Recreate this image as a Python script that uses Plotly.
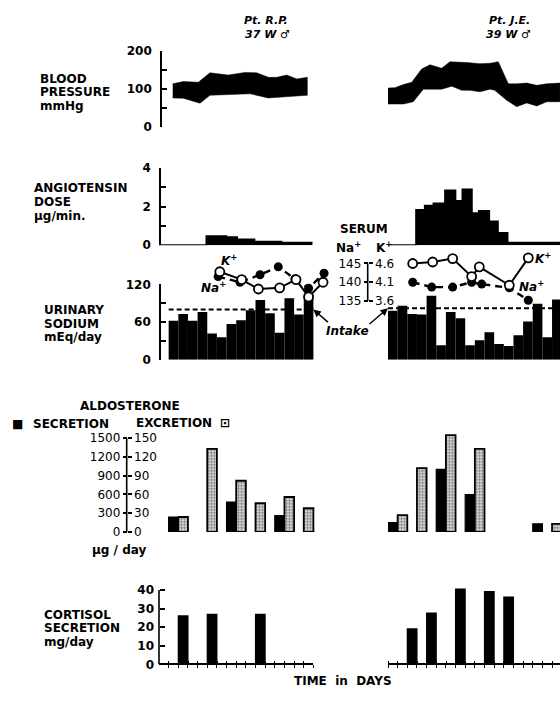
import plotly.graph_objects as go

# ---------------------------------------------------------------- data ----
# Time axis: day numbers along each patient's record
# Blood pressure band edges (mmHg): upper = systolic, lower = diastolic
bp_rp_upper_day = [1.42, 2.52, 4.07, 5.28, 7.18, 8.91, 10.12, 11.33, 12.2, 13.23, 14.27, 15.37]
bp_rp_upper = [114, 120, 118, 143, 137, 144, 143, 131, 131, 137, 127, 131]
bp_rp_lower_day = [1.42, 2.52, 4.25, 5.28, 7.36, 9.43, 11.33, 12.88, 15.37]
bp_rp_lower = [77, 76, 63, 84, 86, 88, 77, 80, 84]

bp_je_upper_day = [0, 0.73, 1.59, 2.46, 3.49, 4.35, 5.56, 6.42, 8.16, 9.53, 10.57, 11.43,
                   12.47, 13.34, 14.37, 15.41, 16.45, 17.82]
bp_je_upper = [103, 104, 112, 118, 153, 164, 155, 172, 170, 167, 168, 172,
               114, 114, 116, 110, 114, 116]
bp_je_lower_day = [0, 1.59, 2.62, 3.66, 5.56, 6.6, 7.64, 8.5, 9.53, 10.57, 11.06, 12.3,
                   13.34, 14.37, 15.41, 16.45, 17.82]
bp_je_lower = [61, 61, 67, 100, 100, 108, 97, 97, 93, 100, 97, 71, 54, 64, 56, 67, 67]

# Angiotensin infusion (ug/min): step edges (days) and dose in each step
ang_rp_edges = [0, 4.9, 7.0, 8.1, 9.9, 12.7, 15.9]
ang_rp_dose = [0, 0.47, 0.42, 0.30, 0.19, 0.14]
ang_je_edges = [0, 2.9, 3.8, 4.7, 5.9, 7.0, 7.7, 8.7, 9.4, 10.5, 11.4, 12.4, 17.82]
ang_je_dose = [0, 1.83, 2.05, 2.17, 2.85, 2.30, 2.90, 1.66, 1.78, 1.24, 0.64, 0.14]

# Urinary sodium (mEq/day), one bar per day
na_rp_day = list(range(1, 16))
na_rp = [62, 73, 62, 76, 42, 36, 57, 63, 79, 95, 74, 43, 98, 72, 104]
na_je_day = list(range(0, 18))
na_je = [78, 86, 73, 72, 102, 23, 76, 66, 23, 31, 44, 25, 22, 39, 61, 89, 36, 96]

# Sodium intake (mEq/day) and the days it covers
intake_rp, intake_rp_days = 80, [1, 16]
intake_je, intake_je_days = 82, [0, 17.82]

# Serum Na+ (mEq/L) and K+ (mEq/L)
serum_rp_na_day = [6.13, 8.39, 10.47, 12.36, 14.09, 15.5, 17.1]
serum_rp_na = [141.5, 140.0, 142.0, 144.1, 140.9, 138.4, 142.4]
serum_rp_k_day = [6.3, 8.57, 10.3, 12.5, 14.2, 15.5, 17.0]
serum_rp_k = [4.38, 4.17, 3.92, 3.95, 4.17, 3.71, 4.10]

serum_je_na_day = [2.56, 4.53, 6.7, 8.67, 9.71, 12.57, 14.54]
serum_je_na = [140.0, 138.7, 138.7, 140.0, 139.5, 138.5, 135.2]
serum_je_k_day = [2.56, 4.63, 6.7, 8.67, 9.46, 12.57, 14.54]
serum_je_k = [4.60, 4.64, 4.73, 4.25, 4.51, 4.02, 4.75]

# Aldosterone: secretion (ug/day, left scale) and excretion (ug/day, right scale)
aldo_rp_sec_day = [1, 7, 12]
aldo_rp_sec = [240, 480, 262]
aldo_rp_exc_day = [2, 5, 8, 10, 13, 15]
aldo_rp_exc = [24, 133, 82, 46, 56, 38]
aldo_je_sec_day = [0, 5, 8, 15]
aldo_je_sec = [150, 1000, 600, 132]
aldo_je_exc_day = [1, 3, 6, 9, 17]
aldo_je_exc = [27, 102, 155, 133, 13]

# Cortisol secretion (mg/day)
cort_rp_day = [2, 5, 10]
cort_rp = [26.4, 27.2, 27.2]
cort_je_day = [2, 4, 7, 10, 12]
cort_je = [19.4, 28.0, 40.9, 39.5, 36.5]

# Tick values (labelled, then unlabelled in-between marks)
bp_ticks, bp_minor = [0, 100, 200], [50, 150]
ang_ticks, ang_minor = [0, 2, 4], [1, 3]
una_ticks, una_minor = [0, 60, 120], [30, 90]
serum_na_ticks = [135, 140, 145]
serum_k_ticks, serum_k_ticktext = [3.6, 4.1, 4.6], ["3.6", "4.1", "4.6"]
aldo_sec_ticks = [0, 300, 600, 900, 1200, 1500]
aldo_exc_ticks = [0, 30, 60, 90, 120, 150]
cort_ticks = [0, 10, 20, 30, 40]
rp_day_ticks = list(range(1, 17))
je_day_ticks = list(range(0, 18))

# -------------------------------------------------------------- layout ----
W, H = 560, 701
DAY_PX = 9.65
LX0, RX0 = 159.0, 388.0
FONT = "DejaVu Sans"
BLACK = "black"


def xdom(p0, p1):
    return [max(p0 / W, 0), min(p1 / W, 1)]


def ydom(top, bottom):
    return [1 - bottom / H, 1 - top / H]


def ypos(px):
    return 1 - px / H


def yaxis(top_px, bottom_px, rng, xpos, minor_vals=None, **kw):
    ax = dict(domain=ydom(top_px, bottom_px), range=rng, anchor="free", position=xpos / W,
              showgrid=False, zeroline=False, fixedrange=True, linecolor=BLACK, linewidth=1.6,
              tickcolor=BLACK, tickwidth=1.6, ticklen=5,
              tickfont=dict(family=FONT, size=12, color=BLACK, weight="bold"))
    if minor_vals:
        ax["minor"] = dict(tickvals=minor_vals, ticks="inside", ticklen=5, tickwidth=1.6,
                           tickcolor=BLACK, showgrid=False)
    ax.update(kw)
    return ax


def span_range(lo, hi, px_lo, px_hi, dom_top, dom_bottom):
    # extend a value span [lo, hi] drawn between pixels px_lo..px_hi to a wider pixel domain
    per_px = (hi - lo) / (px_lo - px_hi)
    return [lo - (dom_bottom - px_lo) * per_px, hi + (px_hi - dom_top) * per_px]


fig = go.Figure()

# Blood pressure bands
for ud, u, ld, lo, xa in [(bp_rp_upper_day, bp_rp_upper, bp_rp_lower_day, bp_rp_lower, "x"),
                          (bp_je_upper_day, bp_je_upper, bp_je_lower_day, bp_je_lower, "x3")]:
    fig.add_trace(go.Scatter(x=ud + ld[::-1], y=u + lo[::-1], mode="lines", fill="toself",
                             fillcolor=BLACK, line=dict(color=BLACK, width=0.5),
                             xaxis=xa, yaxis="y", hoverinfo="skip"))

# Angiotensin dose steps
for edges, dose, xa in [(ang_rp_edges, ang_rp_dose, "x"), (ang_je_edges, ang_je_dose, "x3")]:
    fig.add_trace(go.Scatter(x=edges, y=dose + [dose[-1]], mode="lines", line_shape="hv",
                             fill="tozeroy", fillcolor=BLACK, line=dict(color=BLACK, width=1.6),
                             xaxis=xa, yaxis="y2", hoverinfo="skip"))

# Urinary sodium bars and intake line
for days, vals, xa in [(na_rp_day, na_rp, "x"), (na_je_day, na_je, "x3")]:
    fig.add_trace(go.Bar(x=[d + 0.5 for d in days], y=vals, width=1.0,
                         marker=dict(color=BLACK, line=dict(width=0)),
                         xaxis=xa, yaxis="y3", hoverinfo="skip"))
for level, span, xa in [(intake_rp, intake_rp_days, "x"), (intake_je, intake_je_days, "x3")]:
    fig.add_trace(go.Scatter(x=span, y=[level, level], mode="lines",
                             line=dict(color=BLACK, width=2, dash="5px,3px"),
                             xaxis=xa, yaxis="y3", hoverinfo="skip"))

# Serum Na+ (filled, dashed) and K+ (open, solid)
for d, v, xa in [(serum_rp_na_day, serum_rp_na, "x"), (serum_je_na_day, serum_je_na, "x3")]:
    fig.add_trace(go.Scatter(x=d, y=v, mode="lines+markers",
                             line=dict(color=BLACK, width=2.4, dash="7px,5px"),
                             marker=dict(symbol="circle", size=9, color=BLACK),
                             xaxis=xa, yaxis="y4", hoverinfo="skip", cliponaxis=False))
for d, v, xa in [(serum_rp_k_day, serum_rp_k, "x"), (serum_je_k_day, serum_je_k, "x3")]:
    fig.add_trace(go.Scatter(x=d, y=v, mode="lines+markers",
                             line=dict(color=BLACK, width=2),
                             marker=dict(symbol="circle", size=9, color="white",
                                         line=dict(color=BLACK, width=1.8)),
                             xaxis=xa, yaxis="y5", hoverinfo="skip", cliponaxis=False))

# Aldosterone secretion (solid) and excretion (stippled)
for d, v, xa in [(aldo_rp_sec_day, aldo_rp_sec, "x"), (aldo_je_sec_day, aldo_je_sec, "x3")]:
    fig.add_trace(go.Bar(x=[i + 0.5 for i in d], y=v, width=1.0,
                         marker=dict(color=BLACK, line=dict(color=BLACK, width=1.2)),
                         xaxis=xa, yaxis="y6", hoverinfo="skip"))
for d, v, xa in [(aldo_rp_exc_day, aldo_rp_exc, "x"), (aldo_je_exc_day, aldo_je_exc, "x3")]:
    fig.add_trace(go.Bar(x=[i + 0.5 for i in d], y=v, width=1.0,
                         marker=dict(color="white", line=dict(color=BLACK, width=1.8),
                                     pattern=dict(shape=".", fgcolor=BLACK, bgcolor="white",
                                                  size=3, solidity=0.65)),
                         xaxis=xa, yaxis="y7", hoverinfo="skip"))

# Cortisol secretion
for d, v, xa in [(cort_rp_day, cort_rp, "x2"), (cort_je_day, cort_je, "x4")]:
    fig.add_trace(go.Bar(x=[i + 0.5 for i in d], y=v, width=1.12,
                         marker=dict(color=BLACK, line=dict(width=0)),
                         xaxis=xa, yaxis="y8", hoverinfo="skip"))

# ---- axes
left_span = 17.6
right_span = (W - RX0) / DAY_PX
hidden_x = dict(visible=False, anchor="free", position=0, fixedrange=True)

# serum scale: 135..145 (Na) / 3.6..4.6 (K) between pixels 300 and 261.7
SER_TOP, SER_BOT = 245, 305
na_rng = span_range(135, 145, 300, 261.7, SER_TOP, SER_BOT)
k_rng = span_range(3.6, 4.6, 300, 261.7, SER_TOP, SER_BOT)

# aldosterone scale: 0..1500 between pixels 535.7 and 440 (room above for tall bars)
ALDO_TOP, ALDO_BOT = 432, 535.7
aldo_sec_rng = span_range(0, 1500, ALDO_BOT, 440, ALDO_TOP, ALDO_BOT)
aldo_exc_rng = span_range(0, 150, ALDO_BOT, 440, ALDO_TOP, ALDO_BOT)

# cortisol scale: 0..40 between pixels 670.7 and 595
CORT_TOP, CORT_BOT = 590, 670.7
cort_rng = span_range(0, 40, CORT_BOT, 595, CORT_TOP, CORT_BOT)

small_font = dict(family=FONT, size=12, color=BLACK, weight="normal")


def time_axis(dom, rng, day_ticks):
    # day marks crossing the baseline: major marks below, offset minor marks above
    return dict(domain=dom, range=rng, tickvals=day_ticks, showline=True, linecolor=BLACK,
                linewidth=1.6, ticks="outside", ticklen=3, tickwidth=1.4, tickcolor=BLACK,
                showticklabels=False, showgrid=False, zeroline=False, fixedrange=True,
                anchor="free", position=ypos(CORT_BOT),
                minor=dict(tickvals=[d + 0.01 for d in day_ticks], ticks="inside", ticklen=3,
                           tickwidth=1.4, tickcolor=BLACK, showgrid=False))


fig.update_layout(
    width=W, height=H, margin=dict(l=0, r=0, t=0, b=0), autosize=False,
    paper_bgcolor="white", plot_bgcolor="rgba(0,0,0,0)", showlegend=False,
    barmode="overlay",
    xaxis=dict(domain=xdom(LX0, LX0 + left_span * DAY_PX), range=[0, left_span], **hidden_x),
    xaxis3=dict(domain=xdom(RX0, W), range=[0, right_span], **hidden_x),
    xaxis2=time_axis(xdom(LX0, LX0 + 16 * DAY_PX), [0, 16], rp_day_ticks),
    xaxis4=time_axis(xdom(RX0, W), [0, right_span], je_day_ticks),
    yaxis=yaxis(45, 122.7, [0, 200], 161, bp_minor, showline=True, ticks="inside",
                tickvals=bp_ticks, ticklabelstandoff=6),
    yaxis2=yaxis(164.3, 243, [0, 4], 160, ang_minor, showline=True, ticks="inside",
                 tickvals=ang_ticks, ticklabelstandoff=6),
    yaxis3=yaxis(283, 360, [0, 120], 160, una_minor, showline=True, ticks="inside",
                 tickvals=una_ticks, ticklabelstandoff=6),
    yaxis4=yaxis(SER_TOP, SER_BOT, na_rng, 367.7, showline=False, ticks="outside", ticklen=4,
                 side="left", tickvals=serum_na_ticks, tickfont=small_font),
    yaxis5=yaxis(SER_TOP, SER_BOT, k_rng, 367.7, showline=False, ticks="outside", ticklen=4,
                 side="right", tickvals=serum_k_ticks, ticktext=serum_k_ticktext,
                 tickfont=small_font),
    yaxis6=yaxis(ALDO_TOP, ALDO_BOT, aldo_sec_rng, 126.7, showline=False, ticks="outside",
                 ticklen=4, side="left", tickvals=aldo_sec_ticks, tickfont=small_font),
    yaxis7=yaxis(ALDO_TOP, ALDO_BOT, aldo_exc_rng, 126.7, showline=False, ticks="outside",
                 ticklen=4, side="right", tickvals=aldo_exc_ticks, tickfont=small_font),
    yaxis8=yaxis(CORT_TOP, CORT_BOT, cort_rng, 159, showline=False, ticks="inside",
                 tickvals=cort_ticks, ticklabelstandoff=5),
)

# axis spines that stop at the top labelled value
fig.add_shape(type="line", xref="paper", yref="y4", x0=367.7 / W, x1=367.7 / W,
              y0=serum_na_ticks[0], y1=serum_na_ticks[-1], line=dict(color=BLACK, width=1.6))
fig.add_shape(type="line", xref="paper", yref="y6", x0=126.7 / W, x1=126.7 / W,
              y0=aldo_sec_ticks[0], y1=aldo_sec_ticks[-1], line=dict(color=BLACK, width=1.6))
fig.add_shape(type="line", xref="paper", yref="y8", x0=159 / W, x1=159 / W,
              y0=cort_ticks[0], y1=cort_ticks[-1], line=dict(color=BLACK, width=1.6))


# ---- text
def label(text, x, y, size=12, anchor="left", bold=True, italic=False):
    t = f"<b>{text}</b>" if bold else text
    if italic:
        t = f"<i>{t}</i>"
    fig.add_annotation(text=t, x=x / W, y=ypos(y), xref="paper", yref="paper",
                       xanchor=anchor, yanchor="middle", showarrow=False,
                       font=dict(family=FONT, size=size, color=BLACK))


label("Pt. R.P.", 266, 14, 11, "center", italic=True)
label("37 W ♂", 267, 28, 11, "center", italic=True)
label("Pt. J.E.", 509, 14, 11, "center", italic=True)
label("39 W ♂", 508, 28, 11, "center", italic=True)

for txt, y in [("BLOOD", 73), ("PRESSURE", 87), ("mmHg", 101)]:
    label(txt, 38, y)
for txt, y in [("ANGIOTENSIN", 185), ("DOSE", 199), ("µg/min.", 213)]:
    label(txt, 32, y)
for txt, y in [("URINARY", 309), ("SODIUM", 323), ("mEq/day", 337)]:
    label(txt, 42, y)
for txt, y in [("CORTISOL", 620), ("SECRETION", 634), ("mg/day", 648)]:
    label(txt, 42, y)

label("SERUM", 364, 227, 12, "center")
label("Na<sup>+</sup>", 348, 245, 12, "center")
label("K<sup>+</sup>", 384, 245, 12, "center")

label("K<sup>+</sup>", 229, 258, 12, "center", italic=True)
label("Na<sup>+</sup>", 213, 286, 12, "center", italic=True)
label("K<sup>+</sup>", 543, 256, 12, "center", italic=True)
label("Na<sup>+</sup>", 531, 285, 12, "center", italic=True)
label("Intake", 347, 331, 12, "center", italic=True)

label("ALDOSTERONE", 130, 407, 12, "center")
label("■", 17, 425, 12, "center", bold=False)
label("SECRETION", 31, 425)
label("EXCRETION", 134, 424)
label("⊡", 225, 424, 12, "center")
label("µg / day", 119, 554, 12, "center")

label("TIME  in  DAYS", 343, 688, 12, "center")

# arrows from the "Intake" note to the two intake lines
fig.add_annotation(x=intake_rp_days[1], y=intake_rp, xref="x", yref="y3", showarrow=True,
                   ax=16, ay=14, arrowhead=2, arrowsize=1, arrowwidth=1.5, arrowcolor=BLACK,
                   text="")
fig.add_annotation(x=intake_je_days[0], y=intake_je, xref="x3", yref="y3", showarrow=True,
                   ax=-20, ay=17, arrowhead=2, arrowsize=1, arrowwidth=1.5, arrowcolor=BLACK,
                   text="")

fig.write_html("out.html")
